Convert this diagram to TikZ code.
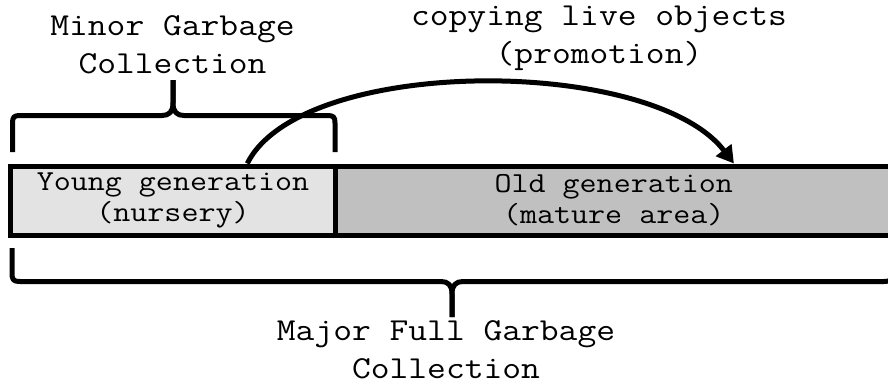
\documentclass[tikz,border=0pt]{standalone}
\usepackage{fontspec}
\setmainfont{Latin Modern Mono}[FakeStretch=1.14]
\usetikzlibrary{arrows.meta,calc}
\definecolor{younggray}{HTML}{E3E3E3}
\definecolor{oldgray}{HTML}{C0C0C0}
\tikzset{
  heapbox/.style={draw=black, line width=5pt, inner sep=0pt, minimum height=69pt,
    align=center, font=\fontsize{29}{31}\selectfont},
  biglabel/.style={inner sep=0pt, align=center, font=\fontsize{32}{38}\selectfont},
  bracepath/.style={draw=black, line width=5pt, line join=round, line cap=butt},
  promo/.style={draw=black, line width=5pt, -{Triangle[length=17pt,width=19pt]}}
}
\begin{document}
\begin{tikzpicture}[x=1pt,y=-1pt]
\useasboundingbox (0,0) rectangle (888,388);
% heap bar
\node[heapbox, fill=younggray, minimum width=325pt] (young) at (173,200.5)
  {Young generation\\(nursery)};
\node[heapbox, fill=oldgray, minimum width=556.5pt] (old) at (613.75,200.5)
  {Old generation\\(mature area)};
% labels
\node[biglabel] (minor) at (172.5,45) {Minor Garbage\\Collection};
\node[biglabel] (copy) at (599,38.5) {copying live objects\\(promotion)};
\node[biglabel] (major) at (446,349.5) {Major Full Garbage\\Collection};
% top brace (minor GC)
\path[bracepath] (12.5,152) -- (12.5,123) .. controls (12.5,117) and (14,115.5) .. (20,115.5)
  -- (162,115.5) .. controls (169,115.5) and (173,112) .. (173,103) -- (173,80);
\path[bracepath] (335,152) -- (335,123) .. controls (335,117) and (333.5,115.5) .. (327.5,115.5)
  -- (184,115.5) .. controls (177,115.5) and (173,112) .. (173,103) -- (173,80);
% bottom brace (major GC)
\path[bracepath] (12,248) -- (12,273) .. controls (12,280) and (13.5,281.5) .. (20,281.5)
  -- (441,281.5) .. controls (448,281.5) and (452,285) .. (452,294) -- (452,317);
\path[bracepath] (892,248) -- (892,273) .. controls (892,280) and (890.5,281.5) .. (884,281.5)
  -- (463,281.5) .. controls (456,281.5) and (452,285) .. (452,294) -- (452,317);
% promotion arrow
\coordinate (src) at ($(young.north west)!0.725!(young.north east)$);
\coordinate (dst) at ($(old.north west)!0.714!(old.north east)$);
\draw[promo] (src) .. controls +(54,-108) and +(-83,-108) .. (dst);
\end{tikzpicture}
\end{document}
